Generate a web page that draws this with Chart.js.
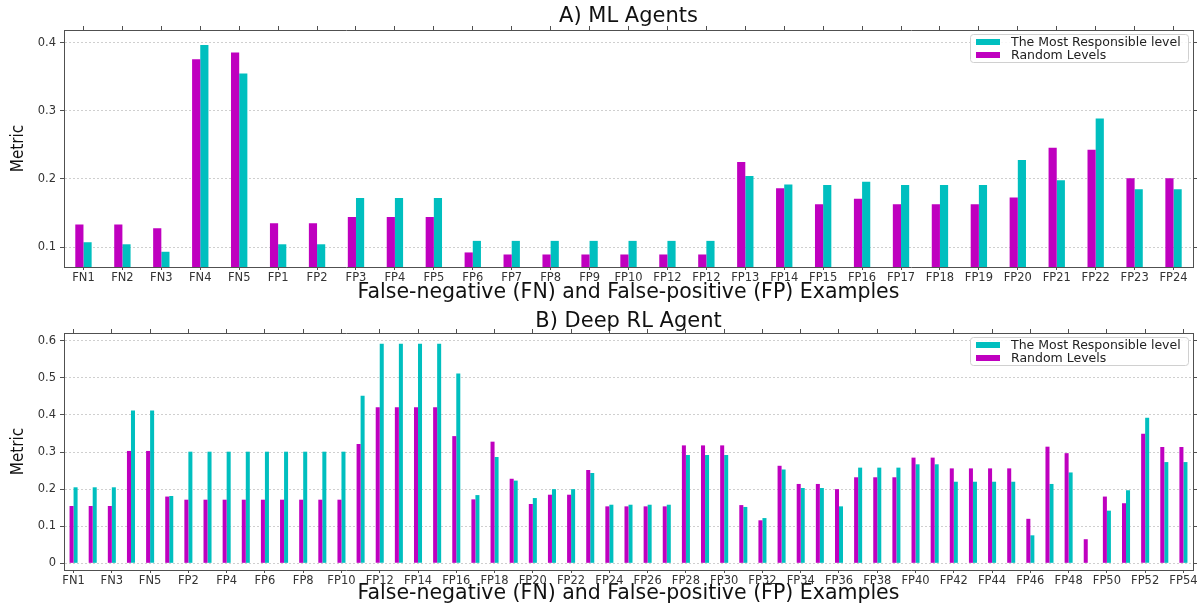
<!DOCTYPE html>
<html>
<head>
<meta charset="utf-8">
<script src="https://cdn.jsdelivr.net/npm/chart.js@4"></script>
<style>
  body { margin: 0; background: #fff; }
  .panel { position: absolute; left: 0; width: 1201px; height: 303px; }
</style>
</head>
<body>
<div class="panel" style="top:0"><canvas id="mlChart" width="1201" height="303"></canvas></div>
<div class="panel" style="top:303px"><canvas id="rlChart" width="1201" height="303"></canvas></div>
<script>
// A) ML Agents
const mlLabels = ["FN1", "FN2", "FN3", "FN4", "FN5", "FP1", "FP2", "FP3", "FP4", "FP5", "FP6", "FP7", "FP8", "FP9",
  "FP10", "FP12", "FP12", "FP13", "FP14", "FP15", "FP16", "FP17", "FP18", "FP19", "FP20", "FP21", "FP22", "FP23", "FP24"];
const mlRandom = [0.133, 0.133, 0.1275, 0.376, 0.386, 0.135, 0.135, 0.144, 0.144, 0.144, 0.092, 0.089, 0.089, 0.089,
  0.089, 0.089, 0.089, 0.225, 0.1865, 0.163, 0.171, 0.163, 0.163, 0.163, 0.1726, 0.246, 0.243, 0.201, 0.201];
const mlMostResp = [0.107, 0.104, 0.093, 0.397, 0.355, 0.104, 0.104, 0.172, 0.172, 0.172, 0.109, 0.109, 0.109, 0.109,
  0.109, 0.109, 0.109, 0.2045, 0.192, 0.191, 0.196, 0.191, 0.191, 0.191, 0.228, 0.198, 0.289, 0.185, 0.185];
const mlYTicks = [0.1, 0.2, 0.3, 0.4];

// B) Deep RL Agent
const rlLabels = ["FN1", "FN2", "FN3", "FN4", "FN5",
  "FP1", "FP2", "FP3", "FP4", "FP5", "FP6", "FP7", "FP8", "FP9", "FP10",
  "FP11", "FP12", "FP13", "FP14", "FP15", "FP16", "FP17", "FP18", "FP19", "FP20",
  "FP21", "FP22", "FP23", "FP24", "FP25", "FP26", "FP27", "FP28", "FP29", "FP30",
  "FP31", "FP32", "FP33", "FP34", "FP35", "FP36", "FP37", "FP38", "FP39", "FP40",
  "FP41", "FP42", "FP43", "FP44", "FP45", "FP46", "FP47", "FP48", "FP49", "FP50",
  "FP51", "FP52", "FP53", "FP54"];
const rlRandom = [0.1545, 0.1545, 0.1545, 0.303, 0.303,
  0.18, 0.1716, 0.1716, 0.1716, 0.1716, 0.1716, 0.1716, 0.1716, 0.1716, 0.1716,
  0.3217, 0.4205, 0.4205, 0.4205, 0.4205, 0.343, 0.1725, 0.328, 0.228, 0.16,
  0.185, 0.185, 0.2516, 0.1536, 0.1536, 0.1536, 0.1536, 0.318, 0.318, 0.318,
  0.157, 0.116, 0.263, 0.214, 0.214, 0.2, 0.232, 0.232, 0.232, 0.285,
  0.285, 0.256, 0.256, 0.256, 0.256, 0.12, 0.3145, 0.297, 0.065, 0.18,
  0.162, 0.3495, 0.3136, 0.3136];
const rlMostResp = [0.205, 0.205, 0.205, 0.412, 0.412,
  0.1815, 0.301, 0.301, 0.301, 0.301, 0.301, 0.301, 0.301, 0.301, 0.301,
  0.452, 0.592, 0.592, 0.592, 0.592, 0.512, 0.184, 0.2866, 0.223, 0.176,
  0.2, 0.2, 0.2435, 0.158, 0.158, 0.158, 0.158, 0.292, 0.292, 0.292,
  0.152, 0.122, 0.253, 0.203, 0.203, 0.1536, 0.258, 0.258, 0.258, 0.267,
  0.267, 0.22, 0.22, 0.22, 0.22, 0.0755, 0.214, 0.245, 0, 0.142,
  0.197, 0.3926, 0.273, 0.273];
const rlYTicks = [0, 0.1, 0.2, 0.3, 0.4, 0.5, 0.6];

const PURPLE = "#bf00bf";
const CYAN = "#00bfbf";
const FRAME = "#505050";
const FONT = "'DejaVu Sans', sans-serif";

// matplotlib-style legend box in the top-right corner of the plot
const cornerLegend = {
  id: "cornerLegend",
  afterDraw(chart) {
    const { ctx, chartArea: a } = chart;
    const items = chart.data.datasets.slice().reverse();
    const w = 218, h = 28;
    const x = a.right - w - 5, y = a.top + 4;
    ctx.save();
    ctx.fillStyle = "rgba(255,255,255,0.85)";
    ctx.strokeStyle = "#d0d0d0";
    ctx.lineWidth = 1;
    ctx.beginPath();
    if (ctx.roundRect) ctx.roundRect(x + 0.5, y + 0.5, w, h, 3);
    else ctx.rect(x + 0.5, y + 0.5, w, h);
    ctx.fill();
    ctx.stroke();
    ctx.font = "12.5px " + FONT;
    ctx.textBaseline = "middle";
    items.forEach((ds, i) => {
      const cy = y + 8 + i * 13;
      ctx.fillStyle = ds.backgroundColor;
      ctx.fillRect(x + 6, cy - 3, 24, 6);
      ctx.fillStyle = "#222";
      ctx.fillText(ds.label, x + 41, cy + 0.5);
    });
    ctx.restore();
  },
};

function makeChart(id, title, titlePad, xTitlePad, labels, random, mostResp, yMin, yMax, yTicks, everyOther) {
  const tickFmt = (v) => (v === 0 ? "0" : v.toFixed(1));
  const labelCb = function (val, i) {
    if (everyOther && i % 2) return null;
    return labels[i];
  };
  const titleH = titlePad + 21;
  return new Chart(document.getElementById(id), {
    type: "bar",
    data: {
      labels: labels,
      datasets: [
        { label: "Random Levels", data: random, backgroundColor: PURPLE, xAxisID: "x", yAxisID: "y" },
        { label: "The Most Responsible level", data: mostResp, backgroundColor: CYAN, xAxisID: "x", yAxisID: "y" },
      ],
    },
    options: {
      responsive: false,
      animation: false,
      datasets: { bar: { categoryPercentage: 0.42, barPercentage: 1.0 } },
      layout: { padding: 0 },
      plugins: {
        legend: { display: false },
        tooltip: { enabled: false },
        title: {
          display: true,
          text: title,
          fullSize: false,
          color: "#111",
          font: { family: FONT, size: 21, weight: "normal", lineHeight: 1.0 },
          padding: { top: titlePad, bottom: 0 },
        },
      },
      scales: {
        x: {
          type: "category",
          position: "bottom",
          offset: true,
          grid: { offset: false, drawOnChartArea: false, tickLength: 3, color: FRAME },
          border: { color: FRAME, width: 1 },
          ticks: {
            autoSkip: false, maxRotation: 0, padding: 1, color: "#333",
            font: { family: FONT, size: 11.5 }, callback: labelCb,
          },
          title: {
            display: true,
            text: "False-negative (FN) and False-positive (FP) Examples",
            color: "#111",
            font: { family: FONT, size: 20.5, lineHeight: 1.0 },
            padding: { top: 0, bottom: xTitlePad },
          },
          afterFit: (s) => { s.height = 36; },
        },
        x2: {
          type: "category",
          labels: labels,
          position: "top",
          offset: true,
          grid: { offset: false, drawOnChartArea: false, tickLength: 4, color: FRAME },
          border: { color: FRAME, width: 1 },
          ticks: { display: false, autoSkip: false, callback: labelCb },
          afterFit: (s) => { s.height = 30 - titleH; },
        },
        y: {
          type: "linear",
          position: "left",
          min: yMin,
          max: yMax,
          afterBuildTicks: (s) => { s.ticks = yTicks.map((v) => ({ value: v })); },
          grid: { color: "#cfcfcf", tickColor: FRAME, tickLength: 4 },
          border: { color: FRAME, width: 1, dash: [2, 2] },
          ticks: { padding: 4, color: "#333", font: { family: FONT, size: 11.5 }, callback: tickFmt },
          title: {
            display: true,
            text: "Metric",
            color: "#111",
            font: { family: "'DejaVu Sans Condensed', 'DejaVu Sans', sans-serif", size: 17 },
            padding: { top: 8, bottom: 0 },
          },
          afterFit: (s) => { s.width = 64; },
        },
        y2: {
          type: "linear",
          position: "right",
          min: yMin,
          max: yMax,
          afterBuildTicks: (s) => { s.ticks = yTicks.map((v) => ({ value: v })); },
          grid: { drawOnChartArea: false, tickLength: 4, color: FRAME },
          border: { color: FRAME, width: 1 },
          ticks: { display: false },
          afterFit: (s) => { s.width = 8; },
        },
      },
    },
    plugins: [cornerLegend],
  });
}

makeChart("mlChart", "A) ML Agents", 6, 0, mlLabels, mlRandom, mlMostResp, 0.0706, 0.419, mlYTicks, false);
makeChart("rlChart", "B) Deep RL Agent", 8, 2, rlLabels, rlRandom, rlMostResp, -0.018, 0.621, rlYTicks, true);
</script>
</body>
</html>
